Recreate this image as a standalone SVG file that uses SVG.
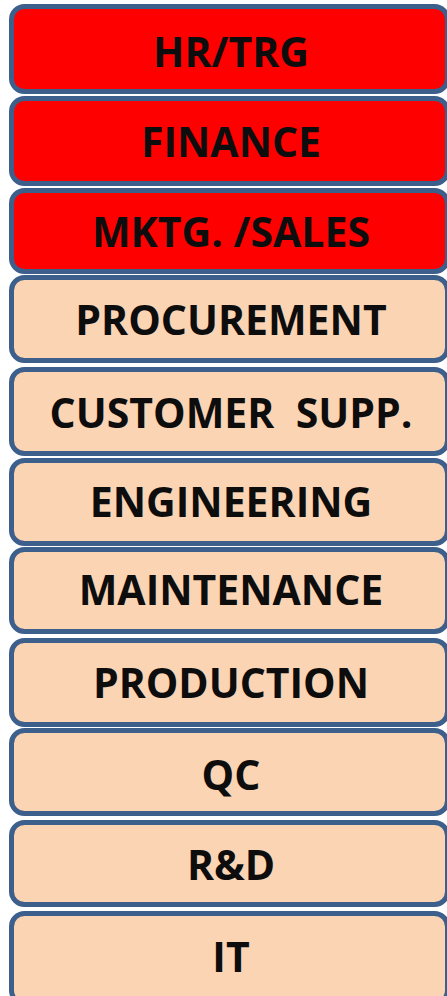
<svg xmlns="http://www.w3.org/2000/svg" width="447" height="996" viewBox="0 0 447 996">
<style>
.box{stroke:#3c5f8c;stroke-width:5}
.red{fill:#ff0000}
.peach{fill:#fbd4b4}
.lbl{font-family:"Open Sans","Liberation Sans",sans-serif;font-weight:700;font-size:41px;fill:#0d0d0d;text-anchor:middle}
</style>
<rect width="447" height="996" fill="#ffffff"/>
<g id="hr-trg"><rect class="box red" x="11.5" y="6.5" width="436" height="85" rx="13"/><text class="lbl" x="231" y="67">HR/TRG</text></g>
<g id="finance"><rect class="box red" x="11.5" y="98.5" width="436" height="85" rx="13"/><text class="lbl" x="231" y="157">FINANCE</text></g>
<g id="mktg-sales"><rect class="box red" x="11.5" y="190.5" width="436" height="81" rx="13"/><text class="lbl" x="231" y="247">MKTG. /SALES</text></g>
<g id="procurement"><rect class="box peach" x="11.5" y="277.5" width="436" height="83" rx="13"/><text class="lbl" x="231" y="335">PROCUREMENT</text></g>
<g id="customer-supp"><rect class="box peach" x="11.5" y="369.5" width="436" height="84" rx="13"/><text class="lbl" x="231" y="428" xml:space="preserve">CUSTOMER  SUPP.</text></g>
<g id="engineering"><rect class="box peach" x="11.5" y="460.5" width="436" height="83" rx="13"/><text class="lbl" x="231" y="517">ENGINEERING</text></g>
<g id="maintenance"><rect class="box peach" x="11.5" y="549.5" width="436" height="82" rx="13"/><text class="lbl" x="231" y="605">MAINTENANCE</text></g>
<g id="production"><rect class="box peach" x="11.5" y="640.5" width="436" height="84" rx="13"/><text class="lbl" x="231" y="698">PRODUCTION</text></g>
<g id="qc"><rect class="box peach" x="11.5" y="730.5" width="436" height="83" rx="13"/><text class="lbl" x="231" y="790">QC</text></g>
<g id="rnd"><rect class="box peach" x="11.5" y="822.5" width="436" height="82" rx="13"/><text class="lbl" x="231" y="880">R&amp;D</text></g>
<g id="it"><rect class="box peach" x="11.5" y="913.5" width="436" height="90" rx="13"/><text class="lbl" x="231" y="972">IT</text></g>
<g id="connectors"/>
</svg>
